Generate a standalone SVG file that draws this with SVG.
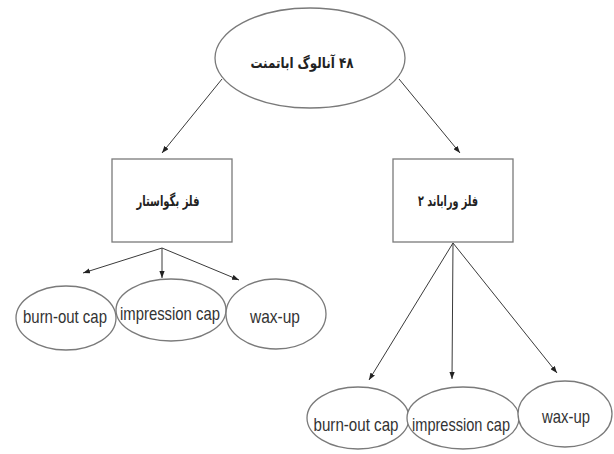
<svg xmlns="http://www.w3.org/2000/svg" width="614" height="454" viewBox="0 0 614 454">
<style>
.shape{fill:#fff;stroke:#7a7a7a;stroke-width:1.3}
.fa{font-family:"DejaVu Sans",sans-serif;font-weight:bold;font-size:15px;fill:#222;text-anchor:middle}
.en{font-family:"Liberation Sans",Arial,sans-serif;font-size:19px;fill:#333;text-anchor:middle}
.link{stroke:#3a3a3a;stroke-width:1;fill:none;marker-end:url(#arr)}
</style>
<defs>
<marker id="arr" viewBox="0 0 8 6" refX="8" refY="3" markerWidth="7" markerHeight="5.5" markerUnits="userSpaceOnUse" orient="auto">
<path d="M0,0 L8,3 L0,6 z" fill="#222"/>
</marker>
</defs>
<rect width="614" height="454" fill="#fff"/>
<g id="connectors">
<line class="link" x1="222" y1="79" x2="162" y2="153"/>
<line class="link" x1="399" y1="79" x2="460" y2="153"/>
<line class="link" x1="162" y1="248" x2="83" y2="273"/>
<line class="link" x1="162" y1="248" x2="162" y2="278"/>
<line class="link" x1="162" y1="248" x2="239" y2="280"/>
<line class="link" x1="453" y1="243" x2="369" y2="380"/>
<line class="link" x1="453" y1="243" x2="452" y2="379"/>
<line class="link" x1="453" y1="243" x2="557" y2="373"/>
</g>
<g id="root">
<ellipse class="shape" cx="310" cy="58" rx="95" ry="50"/>
<text class="fa" x="302" y="68" direction="rtl" textLength="103" lengthAdjust="spacingAndGlyphs">۴۸ آنالوگ اباتمنت</text>
</g>
<g id="box-left">
<rect class="shape" x="112" y="159" width="120" height="83"/>
<text class="fa" x="168" y="206" direction="rtl" textLength="63" lengthAdjust="spacingAndGlyphs">فلز بگواستار</text>
</g>
<g id="box-right">
<rect class="shape" x="393" y="159" width="120" height="83"/>
<text class="fa" x="448" y="206" direction="rtl" textLength="60" lengthAdjust="spacingAndGlyphs">فلز وراباند ۲</text>
</g>
<g id="left-burnout">
<ellipse class="shape" cx="66" cy="318" rx="50" ry="32"/>
<text class="en" x="65" y="323" textLength="84" lengthAdjust="spacingAndGlyphs">burn-out cap</text>
</g>
<g id="left-impression">
<ellipse class="shape" cx="171" cy="310" rx="55" ry="31"/>
<text class="en" x="170" y="320" textLength="100" lengthAdjust="spacingAndGlyphs">impression cap</text>
</g>
<g id="left-waxup">
<ellipse class="shape" cx="276" cy="314" rx="50" ry="35"/>
<text class="en" x="275" y="323" textLength="50" lengthAdjust="spacingAndGlyphs">wax-up</text>
</g>
<g id="right-burnout">
<ellipse class="shape" cx="358" cy="418" rx="51" ry="31"/>
<text class="en" x="356" y="431" textLength="85" lengthAdjust="spacingAndGlyphs">burn-out cap</text>
</g>
<g id="right-impression">
<ellipse class="shape" cx="463" cy="418" rx="56" ry="31"/>
<text class="en" x="461" y="431" textLength="98" lengthAdjust="spacingAndGlyphs">impression cap</text>
</g>
<g id="right-waxup">
<ellipse class="shape" cx="565" cy="414" rx="47" ry="33"/>
<text class="en" x="566" y="423" textLength="48" lengthAdjust="spacingAndGlyphs">wax-up</text>
</g>
</svg>
